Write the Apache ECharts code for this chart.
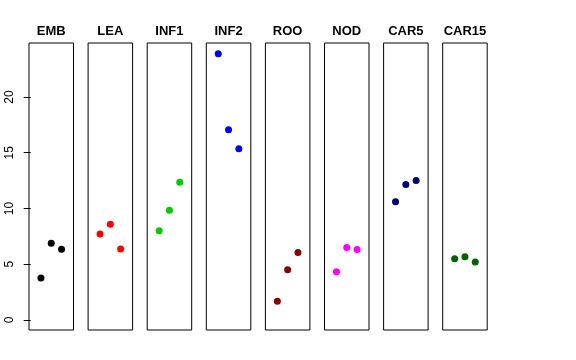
<!DOCTYPE html>
<html>
<head>
<meta charset="utf-8">
<script src="https://cdn.jsdelivr.net/npm/echarts@6/dist/echarts.min.js"></script>
<style>html,body{margin:0;padding:0;background:#fff;}#c{width:576px;height:360px;}</style>
</head>
<body>
<div id="c"></div>
<script>
const categories = ['EMB','LEA','INF1','INF2','ROO','NOD','CAR5','CAR15'];
const xPositions = [1, 2, 3];
const EMB = [3.77, 6.88, 6.34];
const LEA = [7.71, 8.58, 6.37];
const INF1 = [8.01, 9.84, 12.35];
const INF2 = [23.88, 17.07, 15.36];
const ROO = [1.67, 4.51, 6.04];
const NOD = [4.33, 6.49, 6.31];
const CAR5 = [10.61, 12.14, 12.50];
const CAR15 = [5.50, 5.68, 5.20];
const yTicks = [0, 5, 10, 15, 20];
const colors = ['#000000','#FF0000','#00CD00','#0000FF','#8B0000','#FF00FF','#000080','#006400'];

const seriesValues = [EMB, LEA, INF1, INF2, ROO, NOD, CAR5, CAR15];
const FONT = '"Liberation Sans", Arial, Helvetica, sans-serif';
const panelLeft = 29, panelStep = 59.1, panelWidth = 44.5, panelTop = 43, panelHeight = 287;

const grids = [], xAxes = [], yAxes = [], series = [], graphics = [];
categories.forEach((cat, i) => {
  const left = panelLeft + i * panelStep;
  grids.push({left: left, top: panelTop, width: panelWidth, height: panelHeight,
    show: true, borderColor: '#000', borderWidth: 1, backgroundColor: 'transparent', containLabel: false});
  xAxes.push({gridIndex: i, type: 'value', min: -0.16, max: 4.16, show: false});
  yAxes.push({gridIndex: i, type: 'value', min: -0.9, max: 24.84,
    show: i === 0,
    axisLine: {show: false},
    splitLine: {show: false},
    axisTick: {show: i === 0, length: 7, lineStyle: {color: '#000', width: 1}, customValues: yTicks},
    axisLabel: {show: i === 0, rotate: 90, margin: 13, color: '#000', fontSize: 12, fontFamily: FONT, customValues: yTicks}
  });
  series.push({type: 'scatter', xAxisIndex: i, yAxisIndex: i, symbolSize: 7,
    itemStyle: {color: colors[i], opacity: 1},
    data: seriesValues[i].map((v, k) => [xPositions[k], v]),
    silent: true, animation: false});
  graphics.push({type: 'text', x: left + panelWidth / 2, y: 31,
    style: {text: cat, fill: '#000', font: 'bold 13px ' + FONT, textAlign: 'center', textVerticalAlign: 'middle'}});
});

const chart = echarts.init(document.getElementById('c'), null, {renderer: 'canvas'});
chart.setOption({
  backgroundColor: '#fff',
  animation: false,
  grid: grids, xAxis: xAxes, yAxis: yAxes, series: series,
  graphic: graphics
});
</script>
</body>
</html>
